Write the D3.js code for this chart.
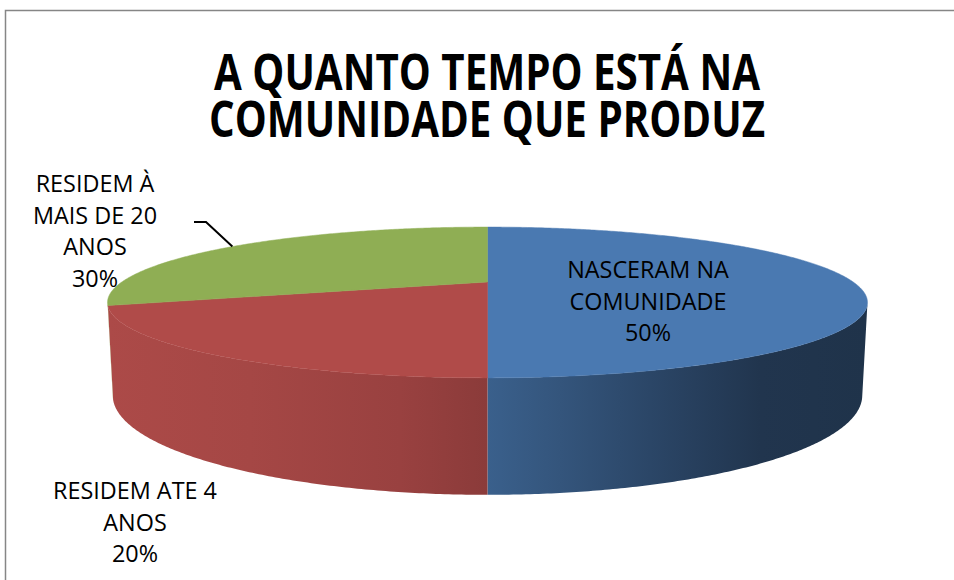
<!DOCTYPE html>
<html>
<head>
<meta charset="utf-8">
<script src="https://cdn.jsdelivr.net/npm/d3@7"></script>
<style>
  body { margin: 0; background: #fff; }
  text { font-family: "Open Sans", sans-serif; fill: #000; }
</style>
</head>
<body>
<div id="chart"></div>
<script>
// data
var categories = ["NASCERAM NA COMUNIDADE", "RESIDEM ATE 4 ANOS", "RESIDEM À MAIS DE 20 ANOS"];
var values = [50, 20, 30];
var percentLabels = ["50%", "20%", "30%"];
var labelLines = [["NASCERAM NA", "COMUNIDADE"], ["RESIDEM ATE 4", "ANOS"], ["RESIDEM À", "MAIS DE 20", "ANOS"]];
var colors = ["#4a79b1", "#b04b49", "#8fae54"];
var titleLines = ["A QUANTO TEMPO ESTÁ NA", "COMUNIDADE QUE PRODUZ"];

var width = 954, height = 580;
var svg = d3.select("#chart").append("svg")
    .attr("width", width)
    .attr("height", height);

// frame
svg.append("rect")
    .attr("x", 5.5).attr("y", 10.5)
    .attr("width", 1000).attr("height", 700)
    .attr("fill", "none")
    .attr("stroke", "#868686")
    .attr("stroke-width", 1.5);

// simple perspective camera for the 3D pie (disc radius 1)
var cam = {
    phi: Math.asin(0.191),
    dist: 3.615,
    f: 1322,
    cx: 487.5,
    cy: 282,
    depth: 0.245
};
function project(u, y, v) {
    // u: right, y: up, v: toward viewer
    var s = Math.sin(cam.phi), c = Math.cos(cam.phi);
    var py = cam.dist * s, pz = cam.dist * c;
    var dy = y - py, dz = v - pz;
    var depth = -dy * s - dz * c;
    var up = dy * c - dz * s;
    return [cam.cx + cam.f * u / depth, cam.cy - cam.f * up / depth];
}
function rim(theta, y) {
    return project(Math.sin(theta), y, -Math.cos(theta));
}

var pie = d3.pie().sort(null).value(function(d) { return d; });
var arcs = pie(values);

// side visibility (silhouette tangent)
var vt = 1 / (cam.dist * Math.cos(cam.phi));
var visA = Math.acos(-vt), visB = 2 * Math.PI - visA;

var line = d3.line();
var step = Math.PI / 360;

function arcPoints(a0, a1, y) {
    var pts = [];
    var n = Math.max(2, Math.ceil((a1 - a0) / step));
    for (var i = 0; i <= n; i++) pts.push(rim(a0 + (a1 - a0) * i / n, y));
    return pts;
}

// side shading: brightness across x
var shade = [[107, 0.98], [250, 0.94], [400, 0.87], [487, 0.79], [560, 0.70], [650, 0.58], [760, 0.44], [867, 0.42]];
var defs = svg.append("defs");
colors.forEach(function(col, i) {
    var g = defs.append("linearGradient")
        .attr("id", "side" + i)
        .attr("gradientUnits", "userSpaceOnUse")
        .attr("x1", 107).attr("x2", 867).attr("y1", 0).attr("y2", 0);
    var base = d3.rgb(col);
    shade.forEach(function(s) {
        g.append("stop")
            .attr("offset", (s[0] - 107) / (867 - 107))
            .attr("stop-color", d3.rgb(base.r * s[1], base.g * s[1], base.b * s[1]).formatHex());
    });
});

var pieG = svg.append("g");

// sides
arcs.forEach(function(d, i) {
    var a0 = Math.max(d.startAngle, visA), a1 = Math.min(d.endAngle, visB);
    if (a1 <= a0) return;
    var top = arcPoints(a0, a1, 0);
    var bottom = arcPoints(a0, a1, -cam.depth).reverse();
    pieG.append("path")
        .attr("d", line(top.concat(bottom)) + "Z")
        .attr("fill", "url(#side" + i + ")");
});

// tops
arcs.forEach(function(d, i) {
    var pts = [project(0, 0, 0)].concat(arcPoints(d.startAngle, d.endAngle, 0));
    pieG.append("path")
        .attr("d", line(pts) + "Z")
        .attr("fill", colors[i])
        .attr("stroke", colors[i])
        .attr("stroke-width", 0.5);
});

// title
var titleG = svg.append("g");
var titleY = [90, 137];
titleLines.forEach(function(t, i) {
    titleG.append("text")
        .attr("class", "title")
        .attr("text-anchor", "middle")
        .attr("font-size", "51px")
        .attr("font-weight", "bold")
        .attr("transform", "translate(486," + titleY[i] + ")")
        .text(t);
});
var tw = titleG.select("text").node().getComputedTextLength();
var tScale = 546 / tw;
titleG.selectAll("text").attr("transform", function(d, i) {
    return "translate(487," + titleY[i] + ") scale(" + tScale + ",1)";
});

// data labels
var labelPos = [[648, 278], [135, 499], [95, 192]];
var lh = 31.5;
var labelG = svg.append("g");
arcs.forEach(function(d, i) {
    var lines = labelLines[i].concat([percentLabels[i]]);
    lines.forEach(function(l, j) {
        labelG.append("text")
            .attr("class", "lbl")
            .attr("text-anchor", "middle")
            .attr("font-size", "24px")
            .attr("data-x", labelPos[i][0])
            .attr("data-y", labelPos[i][1] + j * lh)
            .text(l);
    });
});
var ref = labelG.selectAll("text").filter(function() { return this.textContent === "RESIDEM ATE 4"; }).node();
var lScale = 164 / ref.getComputedTextLength();
labelG.selectAll("text").attr("transform", function() {
    return "translate(" + this.getAttribute("data-x") + "," + this.getAttribute("data-y") + ") scale(" + lScale + ",1)";
});

// leader line to the green slice
var g = arcs[2];
var mid = (g.startAngle + g.endAngle) / 2;
var tip = rim(mid, 0);
svg.append("path")
    .attr("d", line([[194, 222], [206, 222], tip]))
    .attr("fill", "none")
    .attr("stroke", "#000")
    .attr("stroke-width", 2);
</script>
</body>
</html>
